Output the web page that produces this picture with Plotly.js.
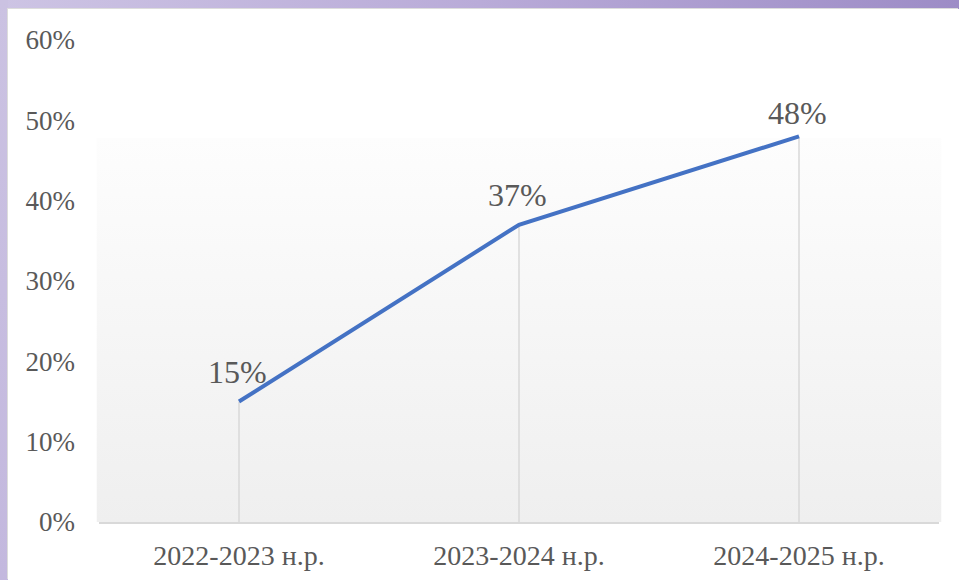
<!DOCTYPE html>
<html>
<head>
<meta charset="utf-8">
<script src="https://cdn.plot.ly/plotly-3.0.1.min.js"></script>
<style>
  html, body { margin: 0; padding: 0; width: 959px; height: 580px; overflow: hidden; }
  body { background: linear-gradient(90deg, #cdc4e4 0%, #b9abd8 50%, #9d8cc6 100%); position: relative; }
  #leftstrip { position: absolute; left: 0; top: 0; width: 8px; height: 580px; background: linear-gradient(180deg, #cbc2e2, #c3b8de); }
  #chart { position: absolute; left: 8px; top: 9px; width: 951px; height: 571px; background: #fff; box-shadow: -1px -1px 0 #dcdcdc; }
</style>
</head>
<body>
<div id="leftstrip"></div>
<div id="chart"></div>
<script>
const categories = ["2022-2023 н.р.", "2023-2024 н.р.", "2024-2025 н.р."];
const values = [0.15, 0.37, 0.48];
const labels = ["15%", "37%", "48%"];
const yTickVals = [0, 0.1, 0.2, 0.3, 0.4, 0.5, 0.6];
const labelShifts = [30, 30, 23];

const gradSvg = '<svg xmlns="http://www.w3.org/2000/svg" width="10" height="100" preserveAspectRatio="none">' +
  '<defs><linearGradient id="g" x1="0" y1="0" x2="0" y2="1">' +
  '<stop offset="0" stop-color="#fdfdfd"/><stop offset="1" stop-color="#efefef"/></linearGradient></defs>' +
  '<rect width="10" height="100" fill="url(#g)"/></svg>';
const gradUri = 'data:image/svg+xml;base64,' + btoa(gradSvg);

const font = "'Liberation Serif', 'Times New Roman', serif";

const dropLines = {
  x: categories, y: values, type: 'scatter', mode: 'markers',
  marker: { opacity: 0, size: 1 },
  error_y: { type: 'data', symmetric: false, array: values.map(() => 0), arrayminus: values,
             color: '#d9d9d9', thickness: 1.5, width: 0 },
  hoverinfo: 'skip', showlegend: false
};
const line = {
  x: categories, y: values, type: 'scatter', mode: 'lines',
  line: { color: '#4472C4', width: 4 },
  showlegend: false
};

const annotations = categories.map((c, i) => ({
  x: c, y: values[i], xref: 'x', yref: 'y',
  text: labels[i], showarrow: false,
  xanchor: 'center', yanchor: 'middle',
  xshift: -2, yshift: labelShifts[i],
  font: { family: font, size: 32, color: '#595959' }
}));

const layout = {
  width: 951, height: 571,
  margin: { l: 91, r: 20, t: 31, b: 58 },
  paper_bgcolor: '#ffffff', plot_bgcolor: 'rgba(0,0,0,0)',
  font: { family: font, color: '#595959' },
  xaxis: {
    type: 'category', range: [-0.5, 2.5],
    showgrid: false, zeroline: false,
    showline: true, linecolor: '#d9d9d9', linewidth: 1.5,
    ticks: '', tickfont: { family: font, size: 28, color: '#595959' },
    ticklabelstandoff: 8, fixedrange: true
  },
  yaxis: {
    range: [0, 0.6], tickvals: yTickVals, tickformat: '.0%',
    showgrid: false, zeroline: false, showline: false,
    ticks: '', tickfont: { family: font, size: 27, color: '#595959' },
    ticklabelstandoff: 23, fixedrange: true
  },
  annotations: annotations,
  images: [{
    source: gradUri, xref: 'paper', yref: 'paper',
    x: -0.003, y: 0.797, sizex: 1.006, sizey: 0.797,
    xanchor: 'left', yanchor: 'top', sizing: 'stretch', layer: 'below'
  }]
};

Plotly.newPlot('chart', [dropLines, line], layout, { displayModeBar: false, staticPlot: true });
</script>
</body>
</html>
